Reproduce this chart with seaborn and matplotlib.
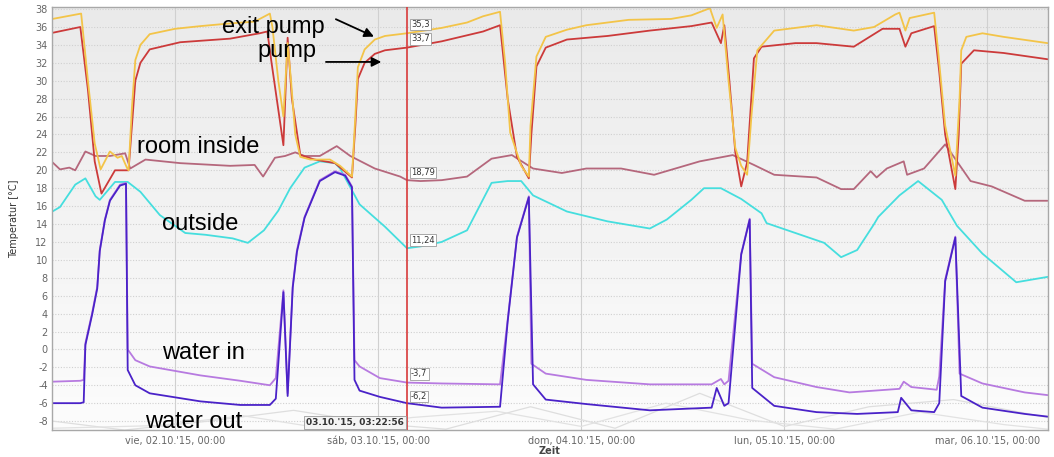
import pandas as pd
import numpy as np
import matplotlib
matplotlib.use("Agg")
import matplotlib.pyplot as plt
import seaborn as sns

# hours relative to Fri 02.10.2015 00:00
exit_pump_h = [-14.5, -11.1, -10.3, -9.5, -8.8, -7.7, -6.8, -6.3, -5.7, -5.5, -5.1, -4.7, -4.1, -3.0, 0.0,
               3.0, 6.5, 9.4, 11.2, 11.5, 12.2, 12.8, 13.3, 13.7, 14.2, 14.8, 16.0, 18.3, 19.5, 20.9, 21.3,
               21.6, 22.4, 23.6, 24.8, 27.4, 31.5, 34.5, 36.4, 38.4, 39.0, 39.6, 40.9, 41.8, 42.0, 42.7,
               43.8, 46.3, 48.6, 53.6, 58.6, 61.0, 63.2, 64.0, 64.7, 65.4, 66.2, 66.9, 67.6, 68.1, 68.8,
               70.8, 75.8, 80.2, 82.6, 85.1, 85.6, 86.3, 86.8, 89.7, 90.2, 91.0, 92.2, 92.7, 92.9, 93.5,
               95.4, 97.9, 103.1]
exit_pump_v = [36.9, 37.5, 30.0, 23.0, 20.1, 22.1, 21.4, 21.6, 20.3, 20.0, 27.0, 32.3, 34.0, 35.2, 35.8,
               36.1, 36.4, 36.6, 37.5, 36.0, 30.0, 26.0, 34.2, 30.0, 24.0, 21.5, 21.2, 21.2, 20.5, 19.3, 26.0,
               31.5, 33.5, 34.6, 35.0, 35.3, 35.9, 36.5, 37.2, 37.7, 32.0, 24.2, 20.5, 19.3, 25.0, 32.7,
               34.9, 35.7, 36.2, 36.8, 36.9, 37.3, 38.1, 35.9, 37.4, 30.0, 22.5, 20.5, 19.5, 26.0, 33.4,
               35.6, 36.2, 35.6, 36.0, 37.4, 37.6, 35.6, 37.0, 37.6, 33.0, 25.0, 19.4, 28.0, 33.4, 34.9,
               35.3, 34.9, 34.2]

pump_h = [-14.5, -11.2, -10.3, -9.5, -8.7, -7.1, -5.5, -5.1, -4.7, -4.1, -3.0, 0.6, 6.5, 10.0, 10.9, 11.4,
          12.8, 13.3, 13.8, 14.8, 16.5, 18.9, 20.9, 21.3, 21.6, 22.4, 23.6, 24.8, 27.4, 31.5, 36.4, 38.4,
          39.3, 40.4, 41.8, 42.1, 42.7, 43.8, 46.3, 51.1, 56.1, 61.0, 63.4, 64.5, 64.9, 65.5, 66.2, 66.9,
          67.6, 68.4, 69.3, 73.3, 75.8, 80.2, 83.6, 85.6, 86.3, 87.0, 89.7, 90.3, 91.0, 92.2, 92.6, 92.9,
          94.4, 97.9, 103.1]
pump_v = [35.35, 36.0, 29.0, 21.0, 17.4, 20.0, 20.0, 25.0, 30.0, 32.0, 33.5, 34.3, 34.7, 35.3, 35.5, 32.0,
          22.8, 34.8, 28.0, 21.7, 21.2, 20.8, 19.2, 25.0, 30.2, 32.0, 33.0, 33.4, 33.7, 34.4, 35.5, 36.2,
          28.0, 21.5, 19.1, 24.0, 31.6, 33.7, 34.6, 35.0, 35.6, 36.1, 36.5, 34.2, 36.2, 30.0, 22.0, 18.2,
          20.9, 32.5, 33.8, 34.2, 34.2, 33.8, 35.8, 35.8, 33.8, 35.3, 36.1, 31.0, 24.0, 17.9, 24.0, 31.9,
          33.4, 33.1, 32.4]

room_h = [-14.5, -13.6, -12.5, -11.8, -10.6, -9.4, -7.7, -5.9, -5.3, -3.5, 0.6, 6.5, 9.4, 10.4, 11.8, 13.0,
          14.2, 15.3, 17.1, 19.1, 20.7, 23.6, 26.6, 27.4, 29.0, 31.5, 34.5, 37.4, 39.8, 42.3, 45.7, 48.6,
          52.7, 56.6, 62.0, 65.9, 68.4, 70.8, 75.8, 78.7, 80.2, 82.2, 82.9, 84.1, 86.1, 86.5, 88.5, 91.0,
          94.0, 96.5, 100.4, 103.1]
room_v = [20.9, 20.1, 20.3, 20.0, 22.1, 21.6, 21.6, 21.9, 20.2, 21.2, 20.8, 20.5, 20.6, 19.3, 21.4, 21.6,
          22.0, 21.6, 21.6, 22.7, 21.6, 20.2, 19.3, 18.9, 18.8, 18.9, 19.3, 21.3, 21.7, 20.2, 19.7, 20.2,
          20.2, 19.5, 21.0, 21.7, 20.6, 19.5, 19.2, 17.9, 17.9, 19.9, 19.2, 20.2, 21.0, 19.5, 20.2, 22.9,
          18.8, 18.2, 16.6, 16.6]

outside_h = [-14.5, -13.6, -11.8, -10.6, -9.4, -8.9, -7.1, -5.6, -4.1, -1.8, 1.2, 3.6, 6.8, 8.6, 10.5, 12.2,
             13.6, 15.3, 17.1, 18.9, 19.5, 21.8, 24.8, 27.4, 29.0, 31.5, 34.5, 37.4, 39.3, 40.9, 42.3, 46.3,
             51.1, 56.1, 58.1, 61.0, 62.5, 64.5, 66.9, 69.3, 69.9, 73.3, 76.7, 78.7, 80.6, 82.6, 83.1, 85.6,
             87.8, 90.6, 92.4, 95.4, 99.4, 103.1]
outside_v = [15.4, 15.9, 18.4, 19.1, 17.1, 16.7, 18.7, 18.7, 17.6, 15.0, 13.0, 12.8, 12.4, 11.9, 13.3, 15.5,
             18.0, 20.3, 21.0, 20.8, 20.2, 16.2, 13.7, 11.3, 11.5, 12.0, 13.3, 18.6, 18.8, 18.8, 17.2, 15.4,
             14.3, 13.5, 14.5, 16.7, 18.0, 18.0, 16.8, 15.2, 14.1, 13.0, 11.9, 10.3, 11.1, 14.0, 14.8, 17.2,
             18.8, 16.7, 13.8, 10.7, 7.5, 8.1]

water_in_h = [-14.5, -11.2, -10.8, -10.6, -9.8, -9.2, -8.9, -8.3, -7.7, -6.5, -5.8, -5.6, -4.7, -3.0, 3.0,
              7.7, 11.2, 11.9, 12.8, 13.3, 13.9, 14.4, 15.3, 17.1, 18.9, 20.1, 20.9, 21.2, 21.8, 24.2, 27.4,
              31.5, 38.4, 39.3, 40.4, 41.8, 42.1, 43.8, 48.6, 56.1, 63.4, 64.5, 64.9, 65.4, 66.9, 67.9, 68.2,
              70.8, 75.8, 79.7, 85.6, 86.1, 87.0, 90.0, 90.3, 91.0, 92.2, 92.7, 95.4, 100.4, 103.1]
water_in_v = [-3.6, -3.5, -3.4, 0.7, 4.1, 7.0, 11.1, 14.5, 16.7, 18.4, 18.6, 0.0, -1.2, -1.9, -2.9,
              -3.5, -4.0, -3.2, 6.6, -4.9, 7.1, 11.1, 14.8, 18.9, 19.9, 19.5, 18.2, -1.2, -1.9, -3.2, -3.7,
              -3.8, -3.9, 3.3, 12.6, 17.1, -1.6, -2.7, -3.4, -3.9, -3.9, -3.3, -3.9, -3.5, 10.7, 14.6, -1.6,
              -3.1, -4.2, -4.8, -4.4, -3.6, -4.2, -4.5, -3.0, 7.8, 12.6, -2.7, -3.8, -4.8, -5.1]

water_out_h = [-14.5, -11.2, -10.8, -10.6, -9.8, -9.2, -8.9, -8.3, -7.7, -6.5, -5.8, -5.6, -4.7, -3.0, 3.0,
               7.7, 11.2, 11.9, 12.8, 13.3, 13.9, 14.4, 15.3, 17.1, 18.9, 20.1, 20.9, 21.2, 21.8, 24.2, 27.4,
               31.5, 38.4, 39.3, 40.4, 41.8, 42.3, 43.8, 48.6, 56.1, 63.4, 64.0, 64.9, 65.4, 66.9, 67.9, 68.2,
               70.8, 75.8, 80.6, 85.4, 85.8, 87.0, 89.7, 90.3, 91.0, 92.2, 92.9, 95.4, 100.4, 103.1]
water_out_v = [-6.0, -6.0, -5.9, 0.5, 3.9, 6.8, 11.0, 14.4, 16.6, 18.3, 18.5, -2.3, -4.0, -4.9, -5.8,
               -6.2, -6.2, -5.5, 6.4, -5.2, 6.9, 10.9, 14.7, 18.8, 19.8, 19.4, 18.1, -3.4, -4.6, -5.3, -6.0,
               -6.5, -6.4, 3.1, 12.5, 17.0, -3.9, -5.6, -6.1, -6.8, -6.5, -4.3, -6.3, -6.0, 10.6, 14.5, -4.3,
               -6.3, -7.0, -7.2, -7.0, -5.4, -6.8, -7.0, -6.0, 7.6, 12.5, -5.2, -6.5, -7.2, -7.5]

# faint background traces near the bottom
faint_a_h = [-14.5, -6.0, 4.0, 14.0, 24.0, 32.0, 42.0, 52.0, 62.0, 72.0, 82.0, 92.0, 103.1]
faint_a_v = [-8.0, -9.0, -8.0, -6.8, -8.3, -8.9, -6.4, -8.8, -4.9, -8.6, -6.4, -5.6, -7.6]
faint_b_h = [-14.5, -2.0, 8.0, 18.0, 28.0, 38.0, 48.0, 58.0, 68.0, 78.0, 88.0, 98.0, 103.1]
faint_b_v = [-8.8, -8.5, -7.4, -8.9, -7.6, -6.9, -8.6, -6.0, -7.9, -8.9, -7.0, -8.4, -8.9]

series_names = ["faint a", "faint b", "room inside", "outside", "water in", "water out", "pump", "exit pump"]
series_colors = ["#dedede", "#e2e2e2", "#b5677c", "#45dede", "#b77ae0", "#4a22c8", "#cc3a3a", "#f3c448"]
cursor_labels = ["35,3", "33,7", "18,79", "11,24", "-3,7", "-6,2"]
cursor_values = [35.3, 33.7, 18.79, 11.24, -3.7, -6.2]
cursor_hour = 27.382  # 03.10.'15, 03:22:56
tick_hours = [0, 24, 48, 72, 96]
tick_labels = ["vie, 02.10.'15, 00:00", "sáb, 03.10.'15, 00:00", "dom, 04.10.'15, 00:00",
               "lun, 05.10.'15, 00:00", "mar, 06.10.'15, 00:00"]

base = pd.Timestamp("2015-10-02 00:00")


def to_time(hours):
    return base + pd.to_timedelta(np.asarray(hours, dtype=float), unit="h")


frames = []
for name, h, v in [("faint a", faint_a_h, faint_a_v), ("faint b", faint_b_h, faint_b_v),
                   ("room inside", room_h, room_v), ("outside", outside_h, outside_v),
                   ("water in", water_in_h, water_in_v), ("water out", water_out_h, water_out_v),
                   ("pump", pump_h, pump_v), ("exit pump", exit_pump_h, exit_pump_v)]:
    frames.append(pd.DataFrame({"time": to_time(h), "temp": v, "series": name}))
df = pd.concat(frames, ignore_index=True)

sns.set_style("white")
plt.rcParams["font.family"] = ["DejaVu Sans"]

fig = plt.figure(figsize=(10.54, 4.57), dpi=100)
ax = fig.add_axes([0.0493, 0.059, 0.9450, 0.926])

# light grey gradient behind the plot area
grad = np.linspace(0.985, 0.915, 64).reshape(-1, 1)
ax.imshow(grad, extent=[0, 1, 0, 1], transform=ax.transAxes, aspect="auto", cmap="gray",
          vmin=0, vmax=1, zorder=0, origin="lower")

sns.lineplot(data=df, x="time", y="temp", hue="series", hue_order=series_names,
             palette=dict(zip(series_names, series_colors)), estimator=None, legend=False,
             linewidth=1.3, ax=ax)
for ln in ax.lines[:2]:
    ln.set_linewidth(0.9)

ax.set_xlim(to_time([-14.55])[0], to_time([103.15])[0])
ax.set_ylim(-9.0, 38.25)
ax.set_yticks(np.arange(-8, 39, 2))
ax.set_yticklabels([str(t) for t in range(-8, 39, 2)])
ax.set_xticks(to_time(tick_hours))
ax.set_xticklabels(tick_labels)
ax.tick_params(axis="both", length=0, labelsize=7, colors="#666666", pad=3)
ax.tick_params(axis="x", pad=4)
ax.grid(axis="y", color="#d0d0d0", linestyle=(0, (1, 1.5)), linewidth=0.8)
ax.grid(axis="x", color="#d0d0d0", linestyle="-", linewidth=0.8)
ax.set_axisbelow(True)
for sp in ax.spines.values():
    sp.set_color("#a8a8a8")
    sp.set_linewidth(1.0)

ax.set_xlabel("Zeit", fontsize=7, fontweight="bold", color="#444444", labelpad=0)
ax.set_ylabel("Temperatur [°C]", fontsize=7, color="#333333", labelpad=12)

# cursor line and value boxes
cur_t = to_time([cursor_hour])[0]
ax.axvline(cur_t, color="#d83a3a", linewidth=1.2, zorder=5)
box = dict(boxstyle="square,pad=0.15", fc="white", ec="#9a9a9a", lw=0.6)
for lab, val in zip(cursor_labels, cursor_values):
    ax.annotate(lab, (cur_t, val), xytext=(3, 3), textcoords="offset points",
                fontsize=6, color="#333333", va="bottom", ha="left", bbox=box, zorder=6)
ax.annotate("03.10.'15, 03:22:56", (cur_t, -9.0), xytext=(-2, 2), textcoords="offset points",
            fontsize=6.5, fontweight="bold", color="#333333", ha="right", va="bottom",
            bbox=dict(boxstyle="square,pad=0.2", fc="#f4f4f4", ec="#9a9a9a", lw=0.6), zorder=6)

# series annotations
lab_font = dict(fontsize=17, family=["Liberation Sans", "DejaVu Sans"], color="black", va="baseline", zorder=7)
ax.text(to_time([5.5])[0], 35.35, "exit pump", **lab_font)
ax.text(to_time([9.7])[0], 32.6, "pump", **lab_font)
ax.text(to_time([-4.5])[0], 21.95, "room inside", **lab_font)
ax.text(to_time([-1.5])[0], 13.3, "outside", **lab_font)
ax.text(to_time([-1.5])[0], -1.1, "water in", **lab_font)
ax.text(to_time([-3.5])[0], -8.8, "water out", **lab_font)

arrow = dict(arrowstyle="-|>", color="black", lw=1.3, mutation_scale=14)
ax.annotate("", xy=(to_time([23.8])[0], 34.8), xytext=(to_time([18.7])[0], 37.0), arrowprops=arrow, zorder=7)
ax.annotate("", xy=(to_time([24.7])[0], 32.1), xytext=(to_time([17.5])[0], 32.1), arrowprops=arrow, zorder=7)

fig.savefig("out.png", dpi=100)
